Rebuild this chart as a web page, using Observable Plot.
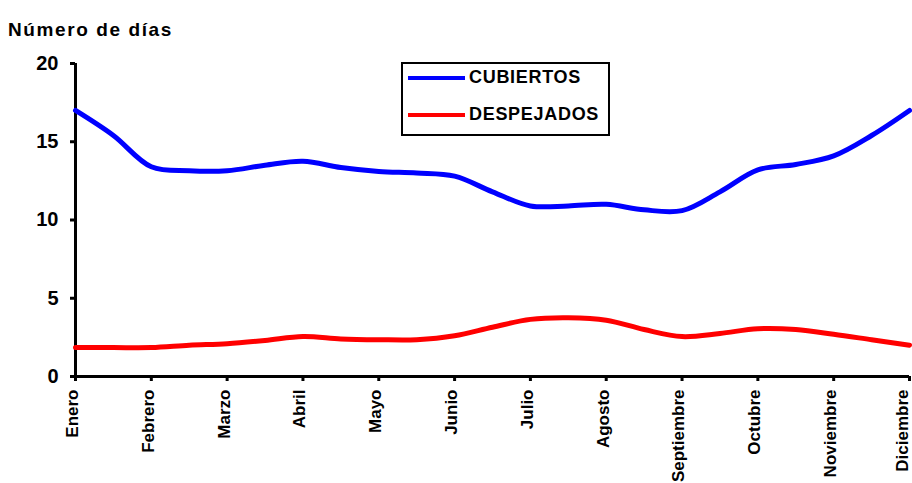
<!DOCTYPE html>
<html>
<head>
<meta charset="utf-8">
<script src="https://cdn.jsdelivr.net/npm/d3@7"></script>
<script src="https://cdn.jsdelivr.net/npm/@observablehq/plot@0.6"></script>
<style>
  html, body { margin: 0; padding: 0; background: #fff; }
  body { width: 912px; height: 483px; overflow: hidden; position: relative; font-family: "Liberation Sans", Arial, sans-serif; }
  #title { height: 45px; box-sizing: border-box; padding: 20px 0 0 8px; font-size: 19px; font-weight: bold; letter-spacing: 1.6px; line-height: 19px; }
  #legend { position: absolute; left: 401px; top: 62px; width: 209px; height: 74px; box-sizing: border-box; border: 2px solid #000; background: #fff; }
  .item { position: absolute; left: 5px; display: flex; align-items: center; font-size: 18px; font-weight: bold; letter-spacing: 0.7px; }
  .swatch { width: 57px; height: 4px; margin-right: 4px; }
</style>
</head>
<body>
<div id="title">Número de días</div>
<div id="chart"></div>
<div id="legend"></div>
<script>
// Month categories (tick labels)
const meses = ["Enero","Febrero","Marzo","Abril","Mayo","Junio","Julio","Agosto","Septiembre","Octubre","Noviembre","Diciembre"];
// Positions along the month axis (readings taken every half month)
const posicion = [0,0.5,1,1.5,2,2.5,3,3.5,4,4.5,5,5.5,6,6.5,7,7.5,8,8.5,9,9.5,10,10.5,11];
// Series values
const cubiertos = [17.0,15.4,13.4,13.15,13.15,13.5,13.75,13.35,13.1,13.0,12.8,11.8,10.9,10.9,11.0,10.65,10.6,11.8,13.2,13.55,14.1,15.4,17.0];
const despejados = [1.85,1.85,1.85,2.0,2.1,2.3,2.55,2.4,2.35,2.35,2.6,3.15,3.65,3.75,3.6,3.0,2.55,2.75,3.05,3.0,2.7,2.35,2.0];
const yTicks = [0,5,10,15,20];
const series = [
  {name: "CUBIERTOS", color: "#0000ff", values: cubiertos},
  {name: "DESPEJADOS", color: "#ff0000", values: despejados}
];

const data = series.flatMap(s => s.values.map((v, i) => ({serie: s.name, x: posicion[i], y: v})));

const font = "'Liberation Sans', Arial, sans-serif";
const chart = Plot.plot({
  width: 912,
  height: 438,
  marginLeft: 75,
  marginRight: 3,
  marginTop: 18,
  marginBottom: 107,
  style: {fontFamily: font, background: "#fff", overflow: "visible"},
  x: {type: "linear", domain: [0, meses.length - 1]},
  y: {domain: [0, 20]},
  color: {domain: series.map(s => s.name), range: series.map(s => s.color)},
  marks: [
    Plot.axisY({ticks: yTicks, tickSize: 5, tickPadding: 12, strokeWidth: 3, fontSize: 20, fontWeight: "bold", label: null, fill: "#000"}),
    Plot.axisX({ticks: d3.range(meses.length), tickFormat: () => "", tickSize: 5, strokeWidth: 3, label: null}),
    Plot.axisX({ticks: d3.range(meses.length), tickFormat: i => meses[i], tickSize: 0, tickPadding: 13, tickRotate: -90, dx: -3, fontSize: 17, fontWeight: "bold", label: null, fill: "#000"}),
    Plot.ruleX([0], {y1: 0, y2: 20, stroke: "#000", strokeWidth: 3}),
    Plot.ruleY([0], {x1: 0, x2: meses.length - 1, stroke: "#000", strokeWidth: 3}),
    Plot.line(data, {x: "x", y: "y", z: "serie", stroke: "serie", strokeWidth: 5, curve: "catmull-rom"})
  ]
});
document.getElementById("chart").appendChild(chart);

// keep the last (edge) month label inside the picture
chart.querySelectorAll("text").forEach(t => {
  if (t.textContent === meses[meses.length - 1]) {
    const tr = t.getAttribute("transform") || "";
    t.setAttribute("transform", "translate(-4,0) " + tr);
  }
});

const legend = document.getElementById("legend");
series.forEach((s, i) => {
  const it = document.createElement("div");
  it.className = "item";
  it.style.top = (i === 0 ? 3 : 40) + "px";
  const sw = document.createElement("div");
  sw.className = "swatch";
  sw.style.background = s.color;
  const tx = document.createElement("span");
  tx.textContent = s.name;
  it.appendChild(sw);
  it.appendChild(tx);
  legend.appendChild(it);
});
</script>
</body>
</html>
